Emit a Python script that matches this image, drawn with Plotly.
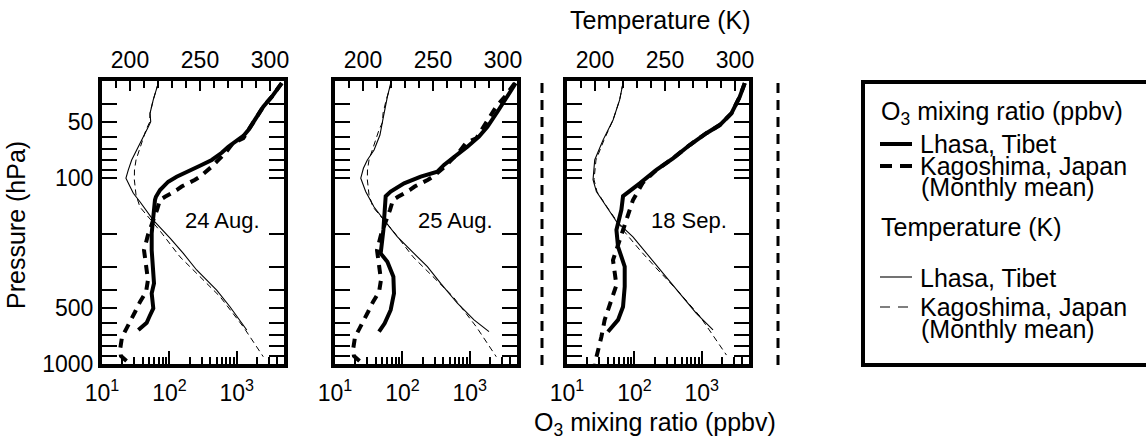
import plotly.graph_objects as go

# ---------------- data ----------------
# Panel 1: 24 Aug. (Lhasa) ; Kagoshima August monthly mean (panels 1 & 2)
p_o3_lhasa_0824 = [30.8, 36.5, 41.2, 48.6, 55.1, 59.3, 63.7, 67.7, 73.0, 79.8, 85.7, 92.3, 98.2, 104.5,
                   115.8, 125.9, 131, 148, 168, 198, 244, 299, 368, 417, 502, 557, 600, 656]
o3_lhasa_0824 = [4640, 3300, 2470, 1862, 1483, 1248, 940, 748, 597, 425, 284, 181, 128, 96,
                 72.6, 63.2, 61.1, 59.1, 56.5, 54.6, 54.6, 57.7, 59.1, 54.6, 57.7, 50.4, 46, 34.6]

p_o3_kago_aug = [30.8, 36.5, 41.2, 48.6, 55.1, 61.0, 64.7, 73.5, 81.5, 86.7, 98.2, 102, 111, 116, 126,
                 131, 148, 168, 202, 244, 293, 353, 410, 463, 525, 625, 716, 841, 906, 1000]
o3_kago_aug = [4640, 3300, 2470, 1862, 1483, 1248, 879, 668, 503, 425, 284, 240, 152, 128, 86,
               72.6, 65.5, 57.2, 48.1, 42, 45, 48.1, 45, 36.6, 30.9, 24.3, 19.8, 18.5, 19.1, 26]

p_t_lhasa_0824 = [30.8, 37.9, 44.8, 49.7, 52.9, 59.8, 70.5, 79.8, 90.3, 100, 111, 120.5, 134, 168,
                  210, 254, 312, 400, 492, 656]
t_lhasa_0824 = [220.2, 216.6, 214.3, 214.8, 213.1, 209.5, 204.8, 201.2, 198.8, 197.1, 200, 202.4, 207.1,
                216.6, 228.6, 238.1, 247.6, 261.9, 271.4, 283.4]

p_t_kago_aug = [30.8, 37.9, 44.8, 50, 55.1, 66.3, 79.8, 90.3, 102, 123, 143, 192, 265, 339, 434, 630, 914]
t_kago_aug = [220.2, 216.6, 214.3, 214, 211.4, 207.9, 204.3, 203.2, 203.1, 204.3, 207.1, 221.4, 235.7,
              250, 264.3, 280.9, 295.2]

# Panel 2: 25 Aug. (Lhasa)
p_o3_lhasa_0825 = [30.8, 36.5, 43.9, 52.9, 59.8, 67.7, 76.5, 84.9, 92.3, 98.2, 106.7, 118, 125, 155,
                   190, 254, 282, 339, 417, 512, 604, 670]
o3_lhasa_0825 = [4800, 3614, 2572, 1824, 1368, 921, 583, 414, 330, 187, 106, 67, 56.5, 55.2,
                 52.2, 47.6, 59.8, 73.5, 75, 67, 54.6, 45]

p_t_lhasa_0825 = [30.8, 36.5, 46.7, 58.6, 70.5, 79.8, 88.5, 100, 118, 143, 168, 207, 254, 299, 368,
                  471, 579, 670]
t_lhasa_0825 = [219.8, 217.4, 214.6, 212.1, 207.9, 203.1, 200.3, 198.4, 201.9, 207.9, 215, 224.6,
                236.4, 246, 255.5, 267.4, 279.3, 290]

# Panel 3: 18 Sep. (Lhasa) ; Kagoshima September monthly mean
p_o3_lhasa_0918 = [30.8, 36.5, 44.8, 51.8, 57.3, 66.3, 78.2, 90.3, 106.7, 125, 148, 190, 234, 299,
                   384, 492, 579, 670]
o3_lhasa_0918 = [4335, 3648, 2750, 1845, 1170, 661, 374, 212, 120, 67.8, 64.1, 54.1, 57.2, 71.8,
                 71.8, 67.8, 57.2, 40.5]

p_o3_kago_sep = [30.8, 36.5, 44.8, 51.8, 57.3, 66.3, 78.2, 90.3, 106, 131, 168, 215, 276, 376, 492,
                 579, 713, 841, 1000]
o3_kago_sep = [4335, 3648, 2750, 1845, 1170, 661, 374, 212, 133, 95.3, 76, 60.5, 48.1, 54.1, 43,
               36.2, 32.4, 28.8, 25.8]

p_t_lhasa_0918 = [30.8, 37.9, 48.6, 62.4, 79.8, 102, 118, 143, 171, 207, 265, 339, 417, 534, 656]
t_lhasa_0918 = [220, 217.6, 212.9, 205.7, 199.8, 198.6, 201, 208.1, 215.3, 227.1, 239.1, 251,
                260.5, 272.4, 284.3]

p_t_kago_sep = [30.8, 37.9, 48.6, 62.4, 79.8, 102, 118, 143, 190, 244, 312, 400, 552, 743, 895]
t_kago_sep = [220, 217.6, 212.9, 206.4, 200.7, 199.3, 201.4, 208.6, 220, 232.1, 245, 258.6,
              274.8, 286.7, 293.9]

panel_dates = ["24 Aug.", "25 Aug.", "18 Sep."]

o3_tickvals = [10, 100, 1000]
o3_ticktext = ["10<sup>1</sup>", "10<sup>2</sup>", "10<sup>3</sup>"]
o3_minor = [20, 30, 40, 50, 60, 70, 80, 90, 200, 300, 400, 500, 600, 700, 800, 900, 2000, 3000, 4000]
t_tickvals = [200, 250, 300]
t_minor = [190, 210, 220, 230, 240, 260, 270, 280, 290]
p_tickvals = [50, 100, 500, 1000]
p_minor = [40, 60, 70, 80, 90, 200, 300, 400, 600, 700, 800, 900]

legend_o3_title = "O<sub>3</sub> mixing ratio (ppbv)"
legend_t_title = "Temperature (K)"
legend_names = ["Lhasa, Tibet", "Kagoshima, Japan", "(Monthly mean)"]

# ---------------- layout geometry (window pixels) ----------------
# the page body margin is removed after plotting (post_script), so the figure fills the window
OFF = 0
W, H = 1146, 448
FONT = "Liberation Sans, Arial, sans-serif"
panels_px = [(102, 284), (335, 517), (567, 749)]
top_px, bot_px = 81, 364


def px(x):
    return (x - OFF) / W


def py(y):
    return 1 - (y - OFF) / H


fig = go.Figure()

panels = [
    dict(o3l=(p_o3_lhasa_0824, o3_lhasa_0824), o3k=(p_o3_kago_aug, o3_kago_aug),
         tl=(p_t_lhasa_0824, t_lhasa_0824), tk=(p_t_kago_aug, t_kago_aug)),
    dict(o3l=(p_o3_lhasa_0825, o3_lhasa_0825), o3k=(p_o3_kago_aug, o3_kago_aug),
         tl=(p_t_lhasa_0825, t_lhasa_0825), tk=(p_t_kago_aug, t_kago_aug)),
    dict(o3l=(p_o3_lhasa_0918, o3_lhasa_0918), o3k=(p_o3_kago_sep, o3_kago_sep),
         tl=(p_t_lhasa_0918, t_lhasa_0918), tk=(p_t_kago_sep, t_kago_sep)),
]

layout = {}
for k, pan in enumerate(panels):
    a, b, c = 2 * k + 1, 2 * k + 2, k + 1
    xa = "x" if a == 1 else f"x{a}"
    xb = f"x{b}"
    yc = "y" if c == 1 else f"y{c}"
    # temperature (thin)
    fig.add_trace(go.Scatter(x=pan["tk"][1], y=pan["tk"][0], xaxis=xb, yaxis=yc, mode="lines",
                             line=dict(color="black", width=1, dash="6px,4px")))
    fig.add_trace(go.Scatter(x=pan["tl"][1], y=pan["tl"][0], xaxis=xb, yaxis=yc, mode="lines",
                             line=dict(color="black", width=1.1)))
    # ozone (thick)
    fig.add_trace(go.Scatter(x=pan["o3k"][1], y=pan["o3k"][0], xaxis=xa, yaxis=yc, mode="lines",
                             line=dict(color="black", width=4, dash="9px,7px")))
    fig.add_trace(go.Scatter(x=pan["o3l"][1], y=pan["o3l"][0], xaxis=xa, yaxis=yc, mode="lines",
                             line=dict(color="black", width=4)))

    x0, x1 = panels_px[k]
    dom = [px(x0), px(x1)]
    ydom = [py(bot_px), py(top_px)]
    layout["xaxis" if a == 1 else f"xaxis{a}"] = dict(
        type="log", range=[1, 3.7], domain=dom, anchor=yc, side="bottom", automargin=False,
        showgrid=False, zeroline=False, showline=True, linewidth=4, linecolor="black",
        ticks="inside", ticklen=13, tickwidth=2, tickcolor="black",
        tickvals=o3_tickvals, ticktext=o3_ticktext, ticklabelstandoff=5,
        tickfont=dict(size=23, color="black", family=FONT),
        minor=dict(tickvals=o3_minor, ticks="inside", ticklen=7, tickwidth=1.5,
                   tickcolor="black", showgrid=False),
    )
    layout[f"xaxis{b}"] = dict(
        range=[180, 310], overlaying=xa, anchor=yc, side="top", automargin=False,
        showgrid=False, zeroline=False, showline=True, linewidth=4, linecolor="black",
        ticks="inside", ticklen=10, tickwidth=2, tickcolor="black",
        tickvals=t_tickvals, ticktext=[str(v) for v in t_tickvals],
        tickfont=dict(size=23, color="black", family=FONT),
        minor=dict(tickvals=t_minor, ticks="inside", ticklen=7, tickwidth=1.5,
                   tickcolor="black", showgrid=False),
    )
    layout["yaxis" if c == 1 else f"yaxis{c}"] = dict(
        type="log", range=[3, 1.4771], domain=ydom, anchor=xa, automargin=False,
        showgrid=False, zeroline=False, showline=True, linewidth=4, linecolor="black",
        mirror="allticks",
        ticks="inside", ticklen=15, tickwidth=2, tickcolor="black",
        tickvals=p_tickvals, ticktext=[str(v) for v in p_tickvals],
        showticklabels=(k == 0),
        tickfont=dict(size=23, color="black", family=FONT),
        minor=dict(tickvals=p_minor, ticks="inside", ticklen=9, tickwidth=1.5,
                   tickcolor="black", showgrid=False),
    )

annotations = []
shapes = []

date_pos = [(222, 220), (455, 220), (689, 220)]
for (dx, dy), txt in zip(date_pos, panel_dates):
    annotations.append(dict(x=px(dx), y=py(dy), xref="paper", yref="paper", text=txt,
                            showarrow=False, font=dict(size=22, family=FONT, color="black"),
                            xanchor="center", yanchor="middle"))

# axis titles
title_font = dict(size=25, family=FONT, color="black")
annotations.append(dict(x=px(660), y=py(20), xref="paper", yref="paper", text="Temperature (K)",
                        showarrow=False, font=title_font, xanchor="center", yanchor="middle"))
annotations.append(dict(x=px(655), y=py(424), xref="paper", yref="paper",
                        text="O<sub>3</sub> mixing ratio (ppbv)",
                        showarrow=False, font=title_font, xanchor="center", yanchor="middle"))
annotations.append(dict(x=px(16), y=py(225), xref="paper", yref="paper", text="Pressure (hPa)",
                        textangle=-90, showarrow=False, font=title_font,
                        xanchor="center", yanchor="middle"))

# vertical dashed separators
for xv in (542, 778):
    shapes.append(dict(type="line", xref="paper", yref="paper", x0=px(xv), x1=px(xv),
                       y0=py(365), y1=py(82), line=dict(color="black", width=3, dash="10px,7px")))

# legend box (its right side runs off the picture edge, as in the original)
shapes.append(dict(type="rect", xref="paper", yref="paper", x0=px(863), x1=px(1150),
                   y0=py(365), y1=py(82), line=dict(color="black", width=4), fillcolor="rgba(0,0,0,0)"))

LX_LINE0, LX_LINE1, LX_TEXT, LX_HEAD = 880, 912, 918, 879
leg_font = dict(size=25, family=FONT, color="black")


def leg_text(x, y, t):
    annotations.append(dict(x=px(x), y=py(y), xref="paper", yref="paper", text=t, showarrow=False,
                            font=leg_font, xanchor="left", yanchor="middle"))


leg_text(LX_HEAD, 113, legend_o3_title)
shapes.append(dict(type="line", xref="paper", yref="paper", x0=px(LX_LINE0), x1=px(LX_LINE1),
                   y0=py(144), y1=py(144), line=dict(color="black", width=4)))
leg_text(LX_TEXT, 144, legend_names[0])
shapes.append(dict(type="line", xref="paper", yref="paper", x0=px(LX_LINE0), x1=px(LX_LINE1),
                   y0=py(166), y1=py(166), line=dict(color="black", width=4, dash="12px,8px")))
leg_text(LX_TEXT, 166, legend_names[1])
leg_text(LX_TEXT + 1, 187, legend_names[2])

leg_text(LX_HEAD, 227, legend_t_title)
shapes.append(dict(type="line", xref="paper", yref="paper", x0=px(LX_LINE0), x1=px(LX_LINE1),
                   y0=py(277), y1=py(277), line=dict(color="black", width=1.1)))
leg_text(LX_TEXT, 278, legend_names[0])
shapes.append(dict(type="line", xref="paper", yref="paper", x0=px(LX_LINE0), x1=px(LX_LINE1),
                   y0=py(307), y1=py(307), line=dict(color="black", width=1.1, dash="10px,8px")))
leg_text(LX_TEXT, 307, legend_names[1])
leg_text(LX_TEXT + 1, 329, legend_names[2])

fig.update_layout(
    template="none",
    width=W, height=H, margin=dict(l=0, r=0, t=0, b=0, pad=0, autoexpand=False),
    paper_bgcolor="white", plot_bgcolor="white", showlegend=False,
    font=dict(family=FONT, color="black"),
    annotations=annotations, shapes=shapes,
    **layout,
)

fig.write_html("out.html", config={"displayModeBar": False},
               post_script="document.body.style.margin='0';document.body.style.overflow='hidden';")
